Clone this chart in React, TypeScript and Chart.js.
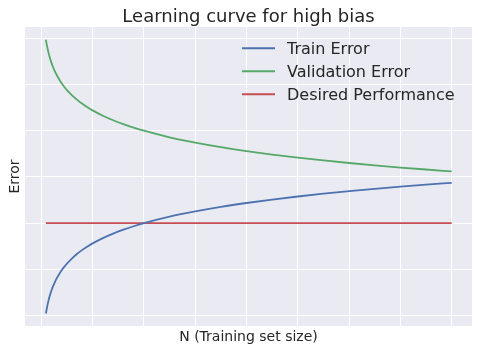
import React, { useEffect, useRef } from "react";
import { Chart, registerables } from "chart.js";

Chart.register(...registerables);

const trainingSizes = [9, 10, 11, 12, 14, 16, 18, 20, 23, 26, 30, 35, 40, 45, 50, 60, 70, 80, 90, 100, 120, 140, 160, 180, 200, 250, 300, 350, 400, 450, 500, 550, 600, 650, 700, 750, 800];
const trainError = [-1.954, -1.887, -1.827, -1.772, -1.675, -1.591, -1.517, -1.451, -1.363, -1.285, -1.195, -1.098, -1.014, -0.94, -0.873, -0.759, -0.661, -0.577, -0.503, -0.437, -0.322, -0.225, -0.141, -0.066, 0.0, 0.141, 0.255, 0.353, 0.437, 0.511, 0.577, 0.638, 0.692, 0.743, 0.789, 0.833, 0.873];
const validationError = [3.969, 3.902, 3.842, 3.786, 3.689, 3.604, 3.529, 3.462, 3.374, 3.295, 3.205, 3.107, 3.022, 2.947, 2.88, 2.765, 2.667, 2.582, 2.507, 2.44, 2.324, 2.227, 2.142, 2.067, 2.0, 1.858, 1.743, 1.645, 1.56, 1.485, 1.418, 1.357, 1.302, 1.251, 1.204, 1.161, 1.12];
const desiredPerformance = [0, 0, 0, 0, 0, 0, 0, 0, 0, 0, 0, 0, 0, 0, 0, 0, 0, 0, 0, 0, 0, 0, 0, 0, 0, 0, 0, 0, 0, 0, 0, 0, 0, 0, 0, 0, 0];
const xGridValues = [0, 100, 200, 300, 400, 500, 600, 700, 800];
const yGridValues = [-2, -1, 0, 1, 2, 3, 4];

const titleText = "Learning curve for high bias";
const xLabel = "N (Training set size)";
const yLabel = "Error";
const seriesLabels = ["Train Error", "Validation Error", "Desired Performance"];
const seriesColors = ["#4C72B0", "#55A868", "#C44E52"];

const TEXT = "#262626";
const FONT = "'DejaVu Sans', sans-serif";

const toPoints = (ys: number[]) => trainingSizes.map((x, i) => ({ x, y: ys[i] }));

const decorPlugin = {
  id: "decor",
  beforeDraw(chart: any) {
    const { ctx, chartArea } = chart;
    ctx.save();
    ctx.fillStyle = "#ffffff";
    ctx.fillRect(0, 0, chart.width, chart.height);
    ctx.fillStyle = "#EAEAF2";
    ctx.fillRect(chartArea.left, chartArea.top, chartArea.right - chartArea.left, chartArea.bottom - chartArea.top);
    ctx.restore();
  },
  afterDraw(chart: any) {
    const { ctx, chartArea } = chart;
    const cx = (chartArea.left + chartArea.right) / 2;
    const cy = (chartArea.top + chartArea.bottom) / 2;
    ctx.save();
    ctx.fillStyle = TEXT;
    ctx.textBaseline = "alphabetic";
    ctx.textAlign = "center";
    ctx.font = `18px ${FONT}`;
    ctx.fillText(titleText, cx, 21.7);
    ctx.font = `14px ${FONT}`;
    ctx.fillText(xLabel, cx, 341);
    ctx.save();
    ctx.translate(18.5, cy);
    ctx.rotate(-Math.PI / 2);
    ctx.fillText(yLabel, 0, 0);
    ctx.restore();

    // legend
    ctx.font = `16px ${FONT}`;
    ctx.textAlign = "left";
    const lineY = [48.3, 71.3, 94.3];
    chart.data.datasets.forEach((ds: any, i: number) => {
      ctx.strokeStyle = ds.borderColor;
      ctx.lineWidth = 2;
      ctx.beginPath();
      ctx.moveTo(242, lineY[i]);
      ctx.lineTo(275, lineY[i]);
      ctx.stroke();
      ctx.fillStyle = TEXT;
      ctx.fillText(ds.label, 287, lineY[i] + 6);
    });
    ctx.restore();
  },
};

export default function App() {
  const ref = useRef<HTMLCanvasElement | null>(null);
  useEffect(() => {
    if (!ref.current) return;
    const series = [trainError, validationError, desiredPerformance];
    const chart = new Chart(ref.current, {
      type: "line",
      data: {
        datasets: series.map((s, i) => ({
          label: seriesLabels[i],
          data: toPoints(s),
          borderColor: seriesColors[i],
          backgroundColor: seriesColors[i],
          borderWidth: 1.8,
          pointRadius: 0,
          cubicInterpolationMode: "monotone" as const,
          fill: false,
        })),
      },
      options: {
        animation: false,
        responsive: false,
        devicePixelRatio: 1,
        layout: { padding: { left: 25, right: 6, top: 27, bottom: 25 } },
        plugins: {
          legend: { display: false },
          title: { display: false },
          tooltip: { enabled: false },
        },
        scales: {
          x: {
            type: "linear",
            min: -31.8,
            max: 839.6,
            afterBuildTicks: (scale: any) => {
              scale.ticks = xGridValues.map((v) => ({ value: v }));
            },
            ticks: { display: false },
            grid: { color: "#ffffff", lineWidth: 1, drawTicks: false },
            border: { display: false },
          },
          y: {
            type: "linear",
            min: -2.224,
            max: 4.244,
            afterBuildTicks: (scale: any) => {
              scale.ticks = yGridValues.map((v) => ({ value: v }));
            },
            ticks: { display: false },
            grid: { color: "#ffffff", lineWidth: 1, drawTicks: false },
            border: { display: false },
          },
        },
      },
      plugins: [decorPlugin],
    });
    return () => chart.destroy();
  }, []);
  return (
    <div style={{ position: "absolute", left: 0, top: 0, width: 478, height: 351 }}>
      <canvas ref={ref} width={478} height={351} style={{ width: 478, height: 351, display: "block" }} />
    </div>
  );
}
